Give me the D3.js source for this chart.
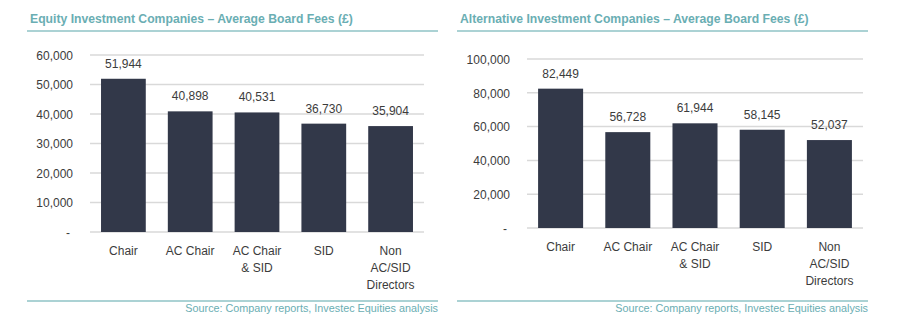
<!DOCTYPE html>
<html lang="en">
<head>
  <meta charset="UTF-8">
  <title>Average Board Fees</title>
  <script src="https://d3js.org/d3.v7.min.js"></script>
  <style>
    body, html {
      margin: 0;
      padding: 0;
      background: #fff;
    }
    svg {
      display: block;
      font-family: Arial, "Liberation Sans", sans-serif;
    }
    .title {
      font-size: 12.2px;
      font-weight: bold;
      fill: #6aaeb3;
    }
    .source {
      font-size: 10.8px;
      fill: #6aaeb3;
      text-anchor: end;
    }
    .rule {
      stroke: #8fc3c6;
      stroke-width: 1.5px;
    }
    .tick text {
      font-size: 12px;
      fill: #3c3c3c;
    }
    .grid line {
      stroke: #d9d9d9;
      stroke-width: 1.5px;
    }
    .value {
      font-size: 12px;
      fill: #3c3c3c;
      text-anchor: middle;
    }
    .cat {
      font-size: 12px;
      fill: #3c3c3c;
      text-anchor: middle;
    }
  </style>
</head>
<body>
  <svg width="900" height="329"></svg>

  <script>
    // Categories shared by both charts (multi-line labels)
    const categories = ["Chair", "AC Chair", "AC Chair\n& SID", "SID", "Non\nAC/SID\nDirectors"];

    // Equity investment companies
    const equityFees = [51944, 40898, 40531, 36730, 35904];
    const equityTicks = [0, 10000, 20000, 30000, 40000, 50000, 60000];

    // Alternative investment companies
    const altFees = [82449, 56728, 61944, 58145, 52037];
    const altTicks = [0, 20000, 40000, 60000, 80000, 100000];

    const source = "Source: Company reports, Investec Equities analysis";
    const fmt = d3.format(",");

    const svg = d3.select("svg");

    function drawPanel(opts) {
      const g = svg.append("g");

      // header
      g.append("text")
        .attr("class", "title")
        .attr("x", opts.left + 3)
        .attr("y", 23)
        .text(opts.title);
      g.append("line")
        .attr("class", "rule")
        .attr("x1", opts.left).attr("x2", opts.right)
        .attr("y1", 31).attr("y2", 31);

      const x = d3.scaleBand()
        .domain(categories)
        .range([opts.plotLeft, opts.plotRight])
        .paddingInner(0.33)
        .paddingOuter(0.165);

      const y = d3.scaleLinear()
        .domain([0, d3.max(opts.ticks)])
        .range([opts.base, opts.top]);

      // gridlines
      g.append("g")
        .attr("class", "grid")
        .selectAll("line")
        .data(opts.ticks)
        .join("line")
        .attr("x1", opts.plotLeft)
        .attr("x2", opts.plotRight)
        .attr("y1", d => y(d))
        .attr("y2", d => y(d));

      // y axis labels
      const yAxis = d3.axisLeft(y)
        .tickValues(opts.ticks)
        .tickSize(0)
        .tickPadding(0)
        .tickFormat(d => d === 0 ? "-" : fmt(d));
      g.append("g")
        .attr("transform", `translate(${opts.labelX},0)`)
        .call(yAxis)
        .call(a => a.select(".domain").remove())
        .call(a => a.selectAll(".tick text").attr("dy", "0.35em"))
        .call(a => a.selectAll(".tick")
          .filter(d => d === 0)
          .select("text")
          .attr("dx", "-3"));

      // bars
      g.selectAll("rect.bar")
        .data(opts.values)
        .join("rect")
        .attr("class", "bar")
        .attr("x", (d, i) => x(categories[i]))
        .attr("width", x.bandwidth())
        .attr("y", d => y(d))
        .attr("height", d => y(0) - y(d))
        .attr("fill", "#323849");

      // value labels
      g.selectAll("text.value")
        .data(opts.values)
        .join("text")
        .attr("class", "value")
        .attr("x", (d, i) => x(categories[i]) + x.bandwidth() / 2)
        .attr("y", d => y(d) - 11)
        .text(d => fmt(d));

      // category labels
      const cats = g.selectAll("text.cat")
        .data(categories)
        .join("text")
        .attr("class", "cat")
        .attr("x", d => x(d) + x.bandwidth() / 2)
        .attr("y", opts.base + 23);
      cats.selectAll("tspan")
        .data(d => d.split("\n").map(s => ({ s, parent: d })))
        .join("tspan")
        .attr("x", d => x(d.parent) + x.bandwidth() / 2)
        .attr("dy", (d, i) => i === 0 ? 0 : 17)
        .text(d => d.s);

      // footer
      g.append("line")
        .attr("class", "rule")
        .attr("x1", opts.left).attr("x2", opts.right)
        .attr("y1", 301).attr("y2", 301);
      g.append("text")
        .attr("class", "source")
        .attr("x", opts.right)
        .attr("y", 312)
        .text(source);
    }

    drawPanel({
      title: "Equity Investment Companies \u2013 Average Board Fees (\u00a3)",
      values: equityFees,
      ticks: equityTicks,
      left: 27, right: 438,
      plotLeft: 90, plotRight: 424,
      labelX: 73,
      top: 55, base: 232
    });

    drawPanel({
      title: "Alternative Investment Companies \u2013 Average Board Fees (\u00a3)",
      values: altFees,
      ticks: altTicks,
      left: 457, right: 868,
      plotLeft: 527, plotRight: 863,
      labelX: 510,
      top: 59, base: 228
    });
  </script>
</body>
</html>
